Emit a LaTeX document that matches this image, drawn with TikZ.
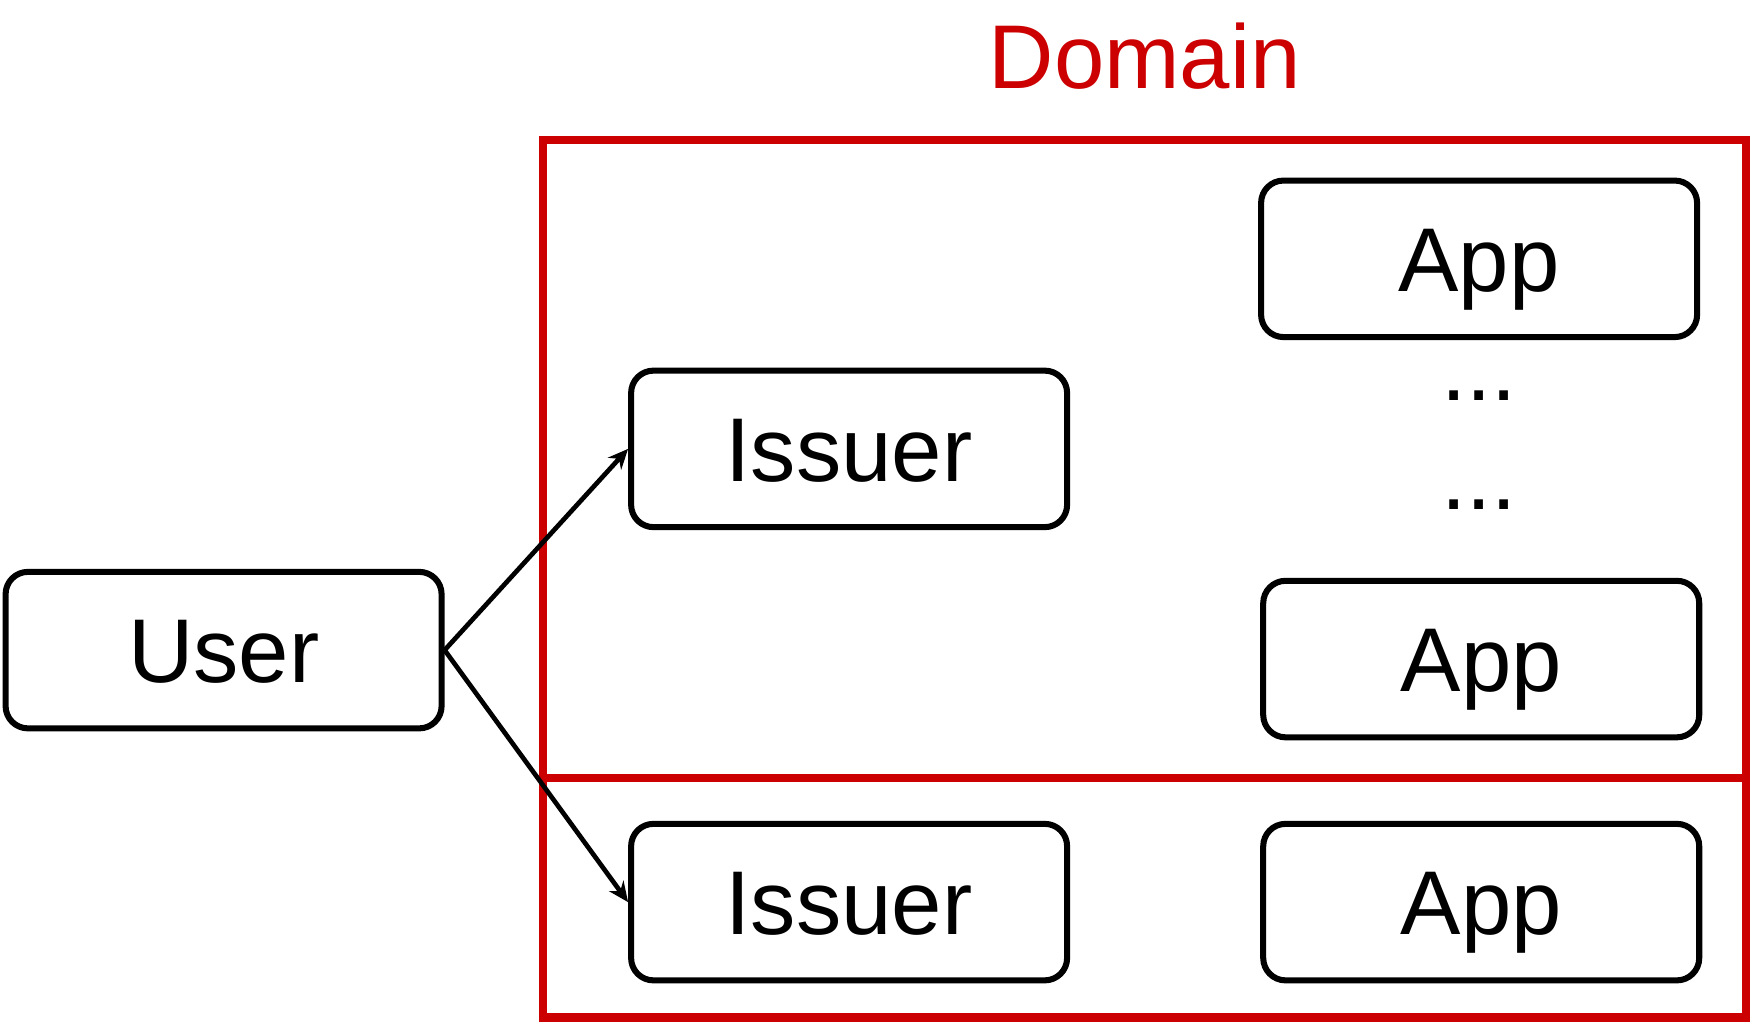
\documentclass[tikz,border=0pt]{standalone}
\usepackage{fontspec}
\setmainfont{Liberation Sans}
\usetikzlibrary{positioning,arrows.meta}
\definecolor{domainred}{HTML}{CC0000}

\begin{document}
\begin{tikzpicture}[>={Stealth[length=9pt, width=8pt, inset=3pt]}, x=0.5pt, y=-0.5pt,
    every node/.style={font=\fontsize{40.5}{48}\selectfont},
    box/.style={draw, line width=2.7pt, rounded corners=10pt, minimum width=195pt, minimum height=70pt, inner sep=0pt, text height=29pt, text depth=0pt}]
    \useasboundingbox (0,0) rectangle (1568,917);
    % domain frame, split in two parts
    \draw[domainred, line width=3.7pt] (486,125) rectangle (1562,910);
    \draw[domainred, line width=3.7pt] (486,696) -- (1562,696);
    \node[text=domainred, anchor=base] (domain) at (1024,79) {Domain};

    \node[box] (user) at (200,581.5) {User};
    \node[box] (issuer1) at (759.5,401.5) {Issuer};
    \node[box, below=130pt of issuer1] (issuer2) {Issuer};

    \node[box] (app1) at (1323,231.5) {App};
    \node[box, right=85pt of issuer2] (app3) {App};
    \node[box, above=36pt of app3] (app2) {App};

    \node[anchor=base] (dots1) at (1323,358) {...};
    \node[anchor=base] (dots2) at (1323,456) {...};

    \draw[->, line width=2.1pt] (user.east) -- (issuer1.west);
    \draw[->, line width=2.1pt] (user.east) -- (issuer2.west);
\end{tikzpicture}
\end{document}
